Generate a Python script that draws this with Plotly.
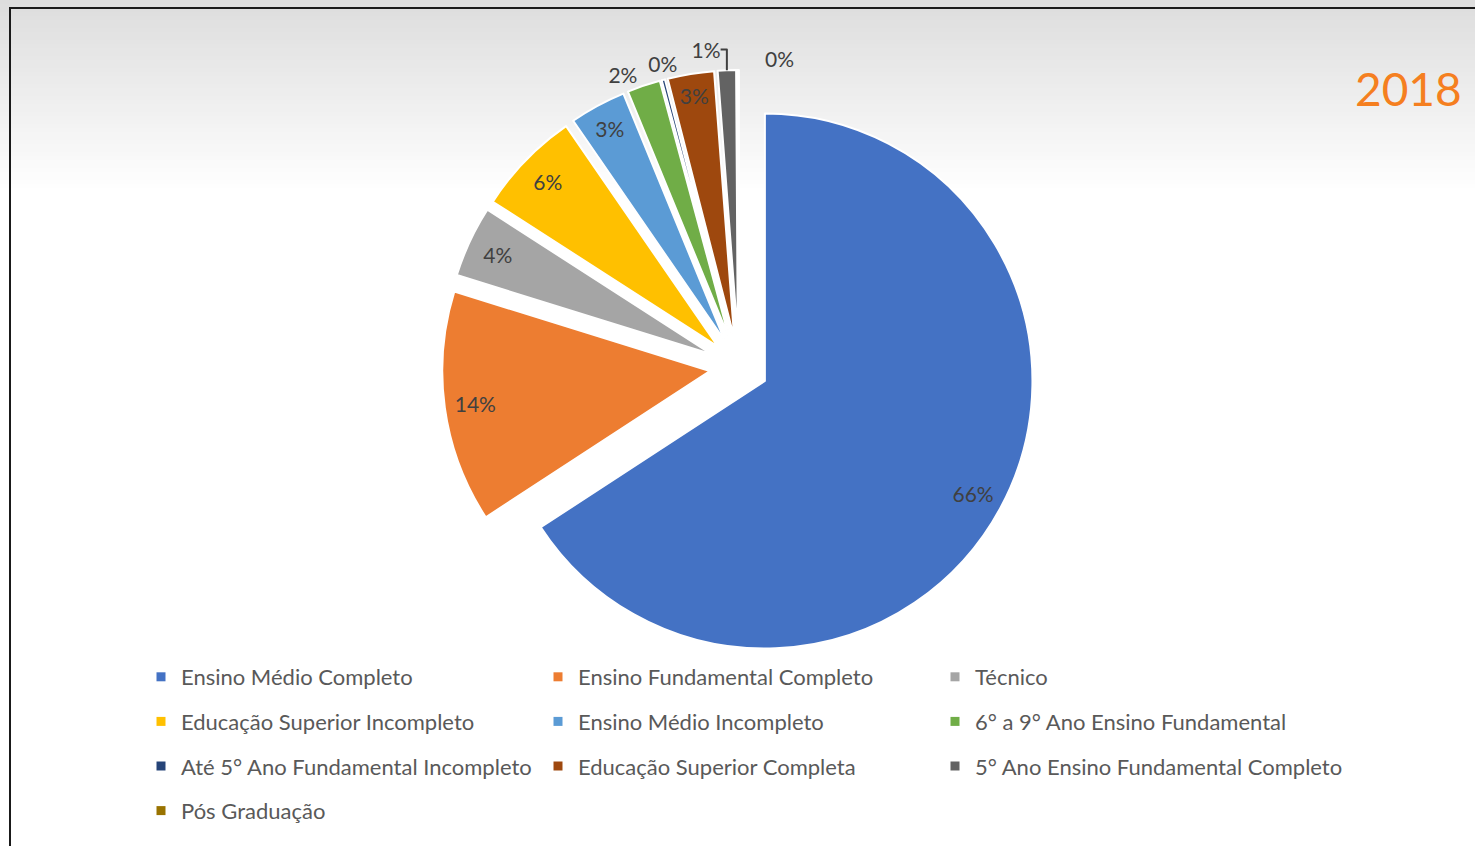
import plotly.graph_objects as go

W, H = 1475, 846

labels = [
    "Ensino Médio Completo",
    "Ensino Fundamental Completo",
    "Técnico",
    "Educação Superior Incompleto",
    "Ensino Médio Incompleto",
    "6° a 9° Ano Ensino Fundamental",
    "Até 5° Ano Fundamental Incompleto",
    "Educação Superior Completa",
    "5° Ano Ensino Fundamental Completo",
    "Pós Graduação",
]
values = [65.8, 14.0, 4.3, 6.3, 3.4, 2.0, 0.2, 2.8, 1.1, 0.1]
colors = ["#4472C4", "#ED7D31", "#A5A5A5", "#FFC000", "#5B9BD5",
          "#70AD47", "#264478", "#9E480E", "#636363", "#997300"]
year_label = "2018"

# label placement per slice: which label layer draws it and how
# layer 1: ring-shaped invisible overlay (puts inside labels near the rim like Excel)
# layer 2: slightly rotated invisible overlay for the tiny slices' outside labels
label_layer = [1, 1, 1, 1, 1, 1, 2, 1, 1, 2]
label_pos = ["inside", "inside", "inside", "inside", "inside",
             "outside", "outside", "inside", "outside", "outside"]
legend_column = [0, 1, 2, 0, 1, 2, 0, 1, 2, 0]

FONT = "Lato"
TXT = "#404040"

def px_x(x):
    return x / W

def px_y(y):
    return 1 - y / H

domain = dict(x=[px_x(442), px_x(1036)], y=[px_y(664), px_y(70)])
common = dict(labels=labels, values=values, sort=False, direction="clockwise",
              pull=0.11, domain=domain, showlegend=False,
              insidetextorientation="horizontal",
              textfont=dict(family=FONT, size=21, color=TXT))

fig = go.Figure()
# main visible pie
fig.add_trace(go.Pie(
    marker=dict(colors=colors, line=dict(color="white", width=2)),
    rotation=0, textinfo="none", textposition="none",
    hoverinfo="label+percent", **common))

transparent = dict(colors=["rgba(0,0,0,0)"] * len(labels),
                   line=dict(color="rgba(0,0,0,0)", width=0))
for layer, rot, hole in [(1, 0, 0.77), (2, 4, 0)]:
    tp = [label_pos[i] if label_layer[i] == layer else "none" for i in range(len(labels))]
    fig.add_trace(go.Pie(marker=transparent, rotation=rot, hole=hole,
                         texttemplate="%{percent:.0%}",
                         textposition=tp, hoverinfo="skip", **common))

# legend: three vertical columns, entries built from labels/colors
legend_names = ["legend", "legend2", "legend3"]
for i, (lab, col) in enumerate(zip(labels, colors)):
    fig.add_trace(go.Scatter(
        x=[None], y=[None], mode="markers", name=lab, legendgroup=lab,
        marker=dict(symbol="square", size=9, color=col),
        legend=legend_names[legend_column[i]], showlegend=True, hoverinfo="skip",
    ))

col_x = [141, 538, 935]
legend_layout = {}
for k, name in enumerate(legend_names):
    legend_layout[name] = dict(
        orientation="v", x=px_x(col_x[k]), xanchor="left",
        y=px_y(656), yanchor="top", traceorder="grouped", tracegroupgap=13,
        font=dict(family=FONT, size=22, color="#595959"),
        bgcolor="rgba(0,0,0,0)", borderwidth=0,
        itemclick=False, itemdoubleclick=False,
    )

# background gradient bands (top grey -> white)
shapes = []
band = 4
top_col, end_y = 221, 190
for y0 in range(0, end_y, band):
    t = y0 / end_y
    c = int(round(top_col + (255 - top_col) * t))
    shapes.append(dict(type="rect", xref="paper", yref="paper",
                       x0=0, x1=1, y0=px_y(y0 + band), y1=px_y(y0),
                       fillcolor=f"rgb({c},{c},{c})", line=dict(width=0),
                       layer="below"))
# chart border
shapes.append(dict(type="rect", xref="paper", yref="paper",
                   x0=px_x(10), x1=px_x(1490), y0=px_y(860), y1=px_y(8),
                   line=dict(color="#1a1a1a", width=2), fillcolor="rgba(0,0,0,0)",
                   layer="above"))

fig.update_layout(
    width=W, height=H,
    margin=dict(l=0, r=0, t=0, b=0, autoexpand=False),
    paper_bgcolor="white", plot_bgcolor="rgba(0,0,0,0)",
    xaxis=dict(visible=False), yaxis=dict(visible=False),
    shapes=shapes,
    uniformtext=dict(minsize=21, mode="show"),
    annotations=[dict(text=year_label, x=px_x(1464), y=px_y(89),
                      xref="paper", yref="paper", xanchor="right", yanchor="middle",
                      showarrow=False,
                      font=dict(family=FONT, size=46, color="#F57F20"))],
    **legend_layout,
)

fig.write_html("out.html", config={"displayModeBar": False},
               post_script="document.body.style.margin='0px';")
